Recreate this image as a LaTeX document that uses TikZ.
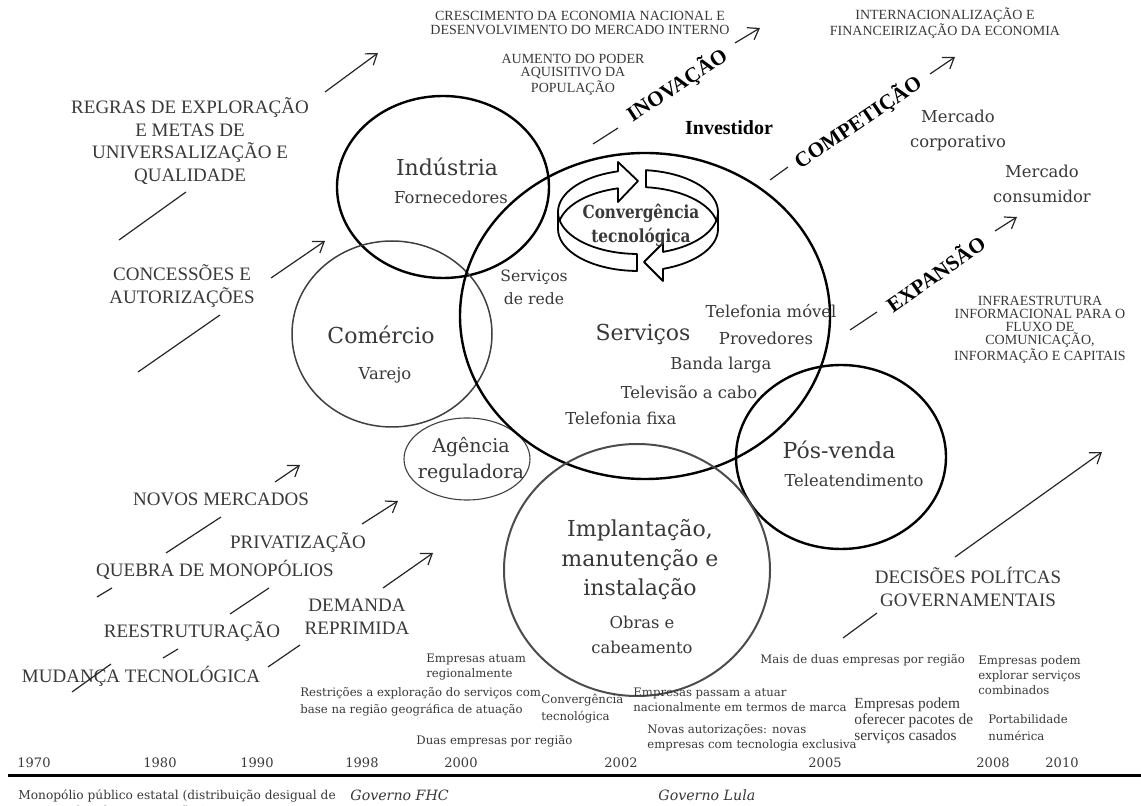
\documentclass[tikz,border=0pt]{standalone}
\usepackage{fontspec}
\setmainfont{DejaVu Serif}
\newfontfamily\capsfont{Liberation Serif}
\newfontfamily\ringfont[FakeStretch=0.85]{DejaVu Serif}
\usetikzlibrary{arrows.meta}

\colorlet{ink}{black!78}
\colorlet{rim}{black!75}
\tikzset{
  big/.style={text=ink,align=center,inner sep=0pt,font=\fontsize{11}{14.75}\selectfont},
  sub/.style={text=ink,align=center,inner sep=0pt,font=\fontsize{8.2}{12.3}\selectfont},
  caps/.style={text=ink,align=center,inner sep=0pt,font=\capsfont\fontsize{9.5}{11.3}\selectfont},
  smallcaps/.style={text=ink,align=center,inner sep=0pt,font=\capsfont\fontsize{7}{7.3}\selectfont},
  force/.style={inner sep=0pt,font=\capsfont\bfseries\fontsize{10.6}{12}\selectfont},
  note/.style={text=ink,align=left,anchor=west,inner sep=0pt,font=\fontsize{5.85}{7.5}\selectfont},
  year/.style={text=ink,inner sep=0pt,font=\fontsize{6.5}{7}\selectfont},
  link/.style={line width=0.6pt,black!85},
  flow/.style={link,-{Straight Barb[length=5pt,width=7pt]}},
  sphere/.style={line width=1.2pt},
  band/.style={draw,fill=white,line width=0.9pt,line join=round},
}

\begin{document}
\begin{tikzpicture}[x=0.5pt,y=-0.5pt]
  \useasboundingbox (0,0) rectangle (1141,806);

  % spheres of the sector
  \draw [sphere] (443,187) ellipse [x radius=106, y radius=91];
  \draw [line width=0.75pt,rim] (392,334) ellipse [x radius=100, y radius=93];
  \draw [line width=0.55pt,rim] (467,459) ellipse [x radius=63, y radius=41];
  \draw [sphere] (645,316) ellipse [x radius=185, y radius=163];
  \draw [sphere] (841,457) ellipse [x radius=105, y radius=92];
  \draw [line width=1pt,black!70] (637,570) ellipse [x radius=133, y radius=126];

  % turning band
  \draw [band] plot [domain=275.7:360,samples=20] ({638+80*cos(\x)},{212+42*sin(\x)})
    -- plot [domain=360:275.7,samples=20] ({638+80*cos(\x)},{229+42*sin(\x)}) -- cycle;
  \draw [band] plot [domain=180:255.5,samples=20] ({638+80*cos(\x)},{212+42*sin(\x)})
    -- (618,162) -- (638,181) -- (618,202)
    -- plot [domain=255.5:180,samples=20] ({638+80*cos(\x)},{229+42*sin(\x)}) -- cycle;
  \draw [band] plot [domain=0:71.8,samples=20] ({638+80*cos(\x)},{212+42*sin(\x)})
    -- (663,243) -- (644,262) -- (663,281)
    -- plot [domain=71.8:0,samples=20] ({638+80*cos(\x)},{229+42*sin(\x)}) -- cycle;
  \draw [band] plot [domain=90.7:180,samples=20] ({638+80*cos(\x)},{212+42*sin(\x)})
    -- plot [domain=180:90.7,samples=20] ({638+80*cos(\x)},{229+42*sin(\x)}) -- cycle;
  \node [inner sep=0pt,align=center,font=\ringfont\bfseries\fontsize{9}{12}\selectfont,text=ink]
    at (641,225) (convergencia) {Convergência\\tecnológica};

  % sphere labels
  \node [big] at (447,167) (industria) {Indústria};
  \node [sub] at (451,197) (fornecedores) {Fornecedores};
  \node [big] at (381,335) (comercio) {Comércio};
  \node [sub] at (385,375) (varejo) {Varejo};
  \node [sub,font=\fontsize{9.5}{13}\selectfont] at (471,460) (agencia) {Agência\\reguladora};
  \node [sub,font=\fontsize{7.8}{11.5}\selectfont] at (534,287) (rede) {Serviços\\de rede};
  \node [big] at (643,334) (servicos) {Serviços};
  \node [sub] at (771,311) (movel) {Telefonia móvel};
  \node [sub] at (766,338) (provedores) {Provedores};
  \node [sub] at (721,365) (banda) {Banda larga};
  \node [sub] at (689,392) (cabo) {Televisão a cabo};
  \node [sub] at (621,418) (fixa) {Telefonia fixa};
  \node [big] at (839,450) (posvenda) {Pós-venda};
  \node [sub] at (854,480) (teleatend) {Teleatendimento};
  \node [big] at (640,560) (implantacao) {Implantação,\\manutenção e\\instalação};
  \node [sub] at (642,635) (obras) {Obras e\\cabeamento};

  % markets and forces
  \node [inner sep=0pt,font=\capsfont\bfseries\fontsize{10}{12}\selectfont] at (729,128) (investidor) {Investidor};
  \node [sub,font=\fontsize{8.2}{12.5}\selectfont] at (958,130) (corporativo) {Mercado\\corporativo};
  \node [sub,font=\fontsize{8.2}{12.5}\selectfont] at (1042,184) (consumidor) {Mercado\\consumidor};
  \node [force,rotate=33] at (677,85) (inovacao) {INOVAÇÃO};
  \node [force,rotate=34] at (858,122) (competicao) {COMPETIÇÃO};
  \node [force,rotate=35] at (935,273) (expansao) {EXPANSÃO};

  % context
  \node [smallcaps] at (580,23) (crescimento) {CRESCIMENTO DA ECONOMIA NACIONAL E\\DESENVOLVIMENTO DO MERCADO INTERNO};
  \node [smallcaps,font=\capsfont\fontsize{7}{6.5}\selectfont] at (573,75) (aumento) {AUMENTO DO PODER\\AQUISITIVO DA\\POPULAÇÃO};
  \node [smallcaps] at (945,23) (internacional) {INTERNACIONALIZAÇÃO E\\FINANCEIRIZAÇÃO DA ECONOMIA};
  \node [smallcaps,font=\capsfont\fontsize{7}{6.5}\selectfont] at (1040,330) (infra) {INFRAESTRUTURA\\INFORMACIONAL PARA O\\FLUXO DE\\COMUNICAÇÃO,\\INFORMAÇÃO E CAPITAIS};
  \node [caps] at (190,141) (regras) {REGRAS DE EXPLORAÇÃO\\E METAS DE\\UNIVERSALIZAÇÃO E\\QUALIDADE};
  \node [caps] at (182,286) (concessoes) {CONCESSÕES E\\AUTORIZAÇÕES};
  \node [caps] at (221,499) (novos) {NOVOS MERCADOS};
  \node [caps] at (298,543) (privatizacao) {PRIVATIZAÇÃO};
  \node [caps] at (215,570) (quebra) {QUEBRA DE MONOPÓLIOS};
  \node [caps] at (192,632) (reestruturacao) {REESTRUTURAÇÃO};
  \node [caps] at (357,617) (demanda) {DEMANDA\\REPRIMIDA};
  \node [caps] at (141,676) (mudanca) {MUDANÇA TECNOLÓGICA};
  \node [caps] at (968,587) (decisoes) {DECISÕES POLÍTCAS\\GOVERNAMENTAIS};

  % flows
  \foreach \n/\xa/\ya/\xb/\yb in {1/119/240/186/192, 2/138/372/220/315, 3/166/553/221/517,
      4/97/597/112/588, 5/230/614/269/588, 6/163/658/178/649, 7/268/667/300/645,
      8/72/692/111/664, 9/593/144/618/128, 10/770/180/788/167, 11/850/330/877/312,
      12/843/638/877/613}
  {
    \coordinate (la\n) at (\xa,\ya);
    \coordinate (lb\n) at (\xb,\yb);
    \draw [link] (la\n) -- (lb\n);
  }
  \foreach \n/\xa/\ya/\xb/\yb in {1/325/92/378/53, 2/271/278/325/241, 3/275/482/300/465,
      4/362/524/398/501, 5/383/588/433/553, 6/735/43/760/28, 7/930/74/955/57,
      8/995/231/1017/217, 9/955/557/1102/452}
  {
    \coordinate (fa\n) at (\xa,\ya);
    \coordinate (fb\n) at (\xb,\yb);
    \draw [flow] (fa\n) -- (fb\n);
  }

  % timeline
  \node [note] at (426,667) (atuam) {Empresas atuam\\regionalmente};
  \node [note,font=\fontsize{5.85}{8.5}\selectfont] at (300,702) (restricoes) {Restrições a exploração do serviços com\\base na região geográfica de atuação};
  \node [note,font=\fontsize{5.85}{8.5}\selectfont] at (541,709) (convtec) {Convergência\\tecnológica};
  \node [note] at (416,741) (duas) {Duas empresas por região};
  \node [note] at (633,700) (passam) {Empresas passam a atuar\\nacionalmente em termos de marca};
  \node [note] at (647,738) (novas) {Novas autorizações: novas\\empresas com tecnologia exclusiva};
  \node [note] at (760,660) (maisduas) {Mais de duas empresas por região};
  \node [note,font=\capsfont\fontsize{7.7}{8}\selectfont] at (854,721) (pacotes) {Empresas podem\\oferecer pacotes de\\serviços casados};
  \node [note] at (978,675) (combinados) {Empresas podem\\explorar serviços\\combinados};
  \node [note,font=\fontsize{5.85}{8.5}\selectfont] at (988,728) (portabilidade) {Portabilidade\\numérica};
  \foreach \yr/\xx in {1970/34, 1980/160, 1990/257, 1998/362, 2000/461, 2002/621,
      2005/825, 2008/993, 2010/1062}
  {
    \node [year] at (\xx, 763) (y\yr) {\yr};
  }
  \coordinate (t0) at (8,775);
  \coordinate (t1) at (1141,775);
  \draw [line width=1.5pt] (t0) -- (t1);
  \node [note,anchor=north west,font=\fontsize{6.1}{8}\selectfont] at (18,789) (monopolio) {Monopólio público estatal (distribuição desigual de\\serviços de telecomunicações)};
  \node [note,font=\itshape\fontsize{7.1}{8}\selectfont] at (350,795) (fhc) {Governo FHC};
  \node [note,font=\itshape\fontsize{7.1}{8}\selectfont] at (658,795) (lula) {Governo Lula};
\end{tikzpicture}
\end{document}
